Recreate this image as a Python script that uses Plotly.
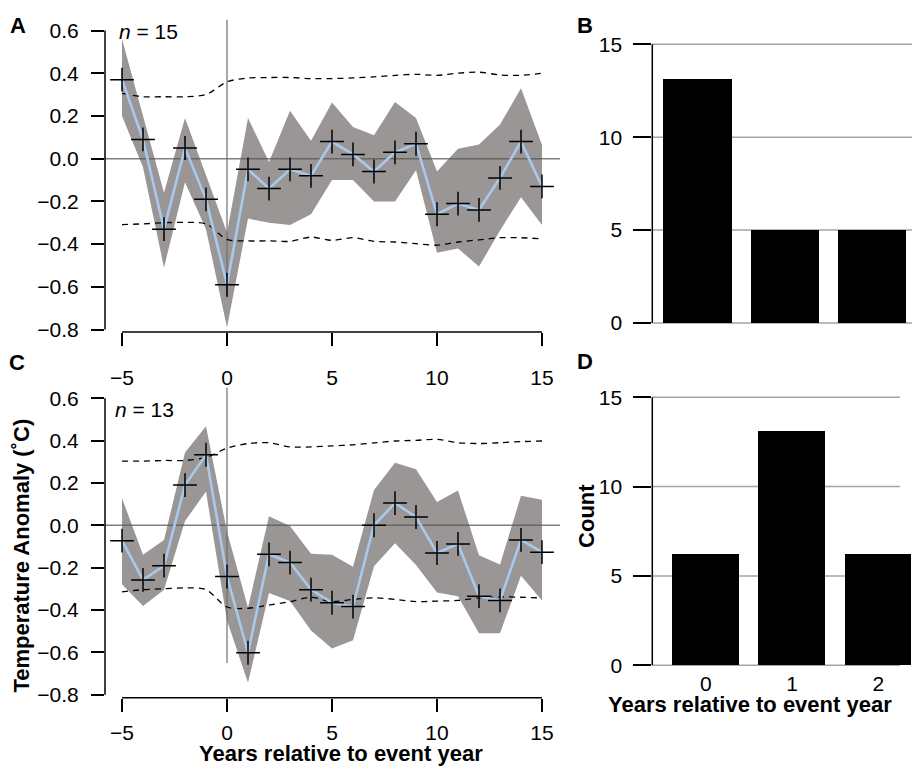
import plotly.graph_objects as go

# ---------------- data ----------------
years = list(range(-5, 16))

A_mean = [0.37, 0.09, -0.33, 0.05, -0.19, -0.59, -0.05, -0.14, -0.05, -0.08,
          0.08, 0.02, -0.06, 0.03, 0.07, -0.26, -0.21, -0.24, -0.09, 0.08, -0.13]
A_band_hi = [0.56, 0.20, -0.16, 0.19, -0.08, -0.345, 0.19, -0.015, 0.225, 0.084,
             0.263, 0.148, 0.11, 0.265, 0.19, -0.06, 0.046, 0.066, 0.16, 0.33, 0.064]
A_band_lo = [0.20, -0.04, -0.51, -0.11, -0.33, -0.79, -0.28, -0.30, -0.31, -0.26,
             -0.10, -0.10, -0.20, -0.20, -0.054, -0.44, -0.42, -0.505, -0.336, -0.18, -0.31]
A_ci_hi = [0.306, 0.29, 0.29, 0.29, 0.30, 0.36, 0.378, 0.38, 0.38, 0.375,
           0.375, 0.378, 0.383, 0.39, 0.395, 0.39, 0.40, 0.405, 0.392, 0.39, 0.40]
A_ci_lo = [-0.309, -0.305, -0.30, -0.298, -0.305, -0.378, -0.385, -0.385, -0.387, -0.367,
           -0.382, -0.37, -0.387, -0.39, -0.398, -0.405, -0.39, -0.38, -0.37, -0.37, -0.375]

C_mean = [-0.073, -0.258, -0.191, 0.19, 0.333, -0.242, -0.602, -0.137, -0.176, -0.304,
          -0.366, -0.384, 0.0, 0.105, 0.039, -0.131, -0.088, -0.335, -0.355, -0.069, -0.127]
C_band_hi = [0.128, -0.139, -0.069, 0.344, 0.468, -0.03, -0.389, 0.043, -0.003, -0.134,
             -0.139, -0.196, 0.167, 0.295, 0.264, 0.11, 0.164, -0.142, -0.185, 0.139, 0.12]
C_band_lo = [-0.278, -0.381, -0.304, 0.02, 0.159, -0.45, -0.744, -0.32, -0.358, -0.497,
             -0.582, -0.543, -0.193, -0.085, -0.188, -0.317, -0.335, -0.51, -0.51, -0.238, -0.355]
C_ci_hi = [0.303, 0.303, 0.306, 0.306, 0.32, 0.364, 0.386, 0.39, 0.37, 0.37,
           0.375, 0.38, 0.389, 0.398, 0.401, 0.406, 0.39, 0.386, 0.39, 0.395, 0.398]
C_ci_lo = [-0.315, -0.304, -0.30, -0.296, -0.304, -0.386, -0.392, -0.377, -0.361, -0.34,
           -0.361, -0.35, -0.343, -0.35, -0.361, -0.358, -0.355, -0.343, -0.338, -0.34, -0.343]

bar_cats = [0, 1, 2]
B_counts = [13.15, 5, 5]
D_counts = [6.25, 13.1, 6.25]

line_xticks = [-5, 0, 5, 10, 15]
line_yticks = [-0.8, -0.6, -0.4, -0.2, 0.0, 0.2, 0.4, 0.6]
bar_yticks = [0, 5, 10, 15]

# ---------------- styling / layout helpers ----------------
W, H = 912, 772
def fx(p):
    return p / W
def fy(p):
    return 1 - p / H

FONT = "Liberation Sans, Arial, Helvetica, sans-serif"
BAND = "#9a9695"
MEAN = "#a9c9ec"
TICKFONT = dict(family=FONT, size=21, color="black")

X_RANGE = [-5 - 17 / 21, 15 + 18 / 21]
A_YRANGE = [-0.8 - 2.5 / 217.86, 0.6 + 15 / 217.86]
C_YRANGE = [-0.8 - 3.2 / 215.93, 0.6 + 15 / 215.93]

fig = go.Figure()

def line_panel(xa, ya, mean, bhi, blo, chi, clo):
    common = dict(xaxis=xa, yaxis=ya, showlegend=False, hoverinfo="skip")
    fig.add_trace(go.Scatter(x=years, y=blo, mode="lines", line=dict(width=0), **common))
    fig.add_trace(go.Scatter(x=years, y=bhi, mode="lines", line=dict(width=0),
                             fill="tonexty", fillcolor=BAND, **common))
    fig.add_trace(go.Scatter(x=X_RANGE, y=[0, 0], mode="lines",
                             line=dict(color="rgba(85,85,85,0.75)", width=1.5), **common))
    fig.add_trace(go.Scatter(x=[0, 0], y=[-0.65, 0.65], mode="lines",
                             line=dict(color="rgba(110,110,110,0.6)", width=2), **common))
    for ci in (chi, clo):
        fig.add_trace(go.Scatter(x=years, y=ci, mode="lines",
                                 line=dict(color="black", width=1.3, dash="6px,5px",
                                           shape="spline", smoothing=0.8), **common))
    fig.add_trace(go.Scatter(x=years, y=mean, mode="lines",
                             line=dict(color=MEAN, width=2.6), **common))
    fig.add_trace(go.Scatter(x=years, y=mean, mode="markers",
                             marker=dict(symbol="cross-thin", size=17,
                                         line=dict(color="black", width=1.5)), **common))

line_panel("x", "y", A_mean, A_band_hi, A_band_lo, A_ci_hi, A_ci_lo)
line_panel("x3", "y3", C_mean, C_band_hi, C_band_lo, C_ci_hi, C_ci_lo)

fig.add_trace(go.Bar(x=bar_cats, y=B_counts, width=0.78, marker=dict(color="black", line=dict(width=0)),
                     xaxis="x2", yaxis="y2", showlegend=False, hoverinfo="skip"))
fig.add_trace(go.Bar(x=bar_cats, y=D_counts, width=0.775, marker=dict(color="black", line=dict(width=0)),
                     xaxis="x4", yaxis="y4", showlegend=False, hoverinfo="skip"))

def x_line_axis(anchor, standoff):
    return dict(domain=[fx(105), fx(560)], range=X_RANGE, anchor=anchor,
                tickvals=line_xticks, ticks="outside", ticklen=13, tickwidth=1.5,
                tickcolor="black", showline=False, showgrid=False, zeroline=False,
                tickfont=TICKFONT, ticklabelstandoff=standoff, fixedrange=True)

def y_line_axis(anchor, dom, rng):
    return dict(domain=dom, range=rng, anchor=anchor, tickvals=line_yticks,
                tickformat=".1f", ticks="outside", ticklen=13, tickwidth=1.5,
                tickcolor="black", showline=False, showgrid=False, zeroline=False,
                tickfont=TICKFONT, ticklabelstandoff=8, fixedrange=True)

B_XRANGE = [-0.52, 2.45]
D_XRANGE = [-0.62, 2.39]
BAR_YRANGE = [-0.3, 15.3]

def y_bar_axis(anchor, dom):
    return dict(domain=dom, range=BAR_YRANGE, anchor=anchor, tickvals=bar_yticks,
                ticks="outside", ticklen=18, tickwidth=1.5, tickcolor="black",
                showline=False, showgrid=False, zeroline=False, tickfont=TICKFONT,
                ticklabelstandoff=7, fixedrange=True)

fig.update_layout(
    width=W, height=H, margin=dict(l=0, r=0, t=0, b=0),
    paper_bgcolor="white", plot_bgcolor="rgba(0,0,0,0)",
    font=dict(family=FONT, color="black"),
    bargap=0,
    xaxis=x_line_axis("y", 14),
    yaxis=y_line_axis("x", [fy(332.5), fy(10)], A_YRANGE),
    xaxis3=x_line_axis("y3", 3),
    yaxis3=y_line_axis("x3", [fy(705.5), fy(385)], C_YRANGE),
    xaxis2=dict(domain=[fx(652.3), 1], range=B_XRANGE, anchor="y2", showticklabels=False,
                ticks="", showline=False, showgrid=False, zeroline=False, fixedrange=True),
    yaxis2=y_bar_axis("x2", [fy(329), fy(33.3)]),
    xaxis4=dict(domain=[fx(652.3), 1], range=D_XRANGE, anchor="y4", tickvals=bar_cats,
                ticks="", showline=False, showgrid=False, zeroline=False, tickfont=TICKFONT,
                ticklabelstandoff=-2, fixedrange=True),
    yaxis4=y_bar_axis("x4", [fy(677.8), fy(393.5)]),
)

shapes = []
# detached R-style axis lines
for ya in ("y", "y3"):
    shapes.append(dict(type="line", xref="paper", yref=ya, x0=fx(105), x1=fx(105),
                       y0=line_yticks[0], y1=line_yticks[-1], line=dict(color="black", width=1.5)))
for xa, ybot in (("x", 332.5), ("x3", 705.5)):
    shapes.append(dict(type="line", xref=xa, yref="paper", x0=line_xticks[0], x1=line_xticks[-1],
                       y0=fy(ybot), y1=fy(ybot), line=dict(color="black", width=1.5)))
# bar panel gridlines + y axis lines
for xa, ya, xr, xend in (("x2", "y2", B_XRANGE, B_XRANGE[1]), ("x4", "y4", D_XRANGE, 2.25)):
    for v in bar_yticks:
        shapes.append(dict(type="line", xref=xa, yref=ya, x0=xr[0], x1=xend, y0=v, y1=v,
                           layer="below", line=dict(color="#a3a3a3", width=1.5)))
    shapes.append(dict(type="line", xref="paper", yref=ya, x0=fx(652.3), x1=fx(652.3),
                       y0=bar_yticks[0], y1=bar_yticks[-1], line=dict(color="black", width=1.5)))
fig.update_layout(shapes=shapes)

ann = []
def label(text, x, y, size=22, angle=0, xanchor="center", bold=True):
    t = f"<b>{text}</b>" if bold else text
    ann.append(dict(text=t, x=fx(x), y=fy(y), xref="paper", yref="paper", showarrow=False,
                    xanchor=xanchor, yanchor="middle", textangle=angle,
                    font=dict(family=FONT, size=size, color="black")))

label("A", 17.5, 20)
label("B", 585, 20)
label("C", 16.5, 364)
label("D", 585, 363)
label("<i>n</i> = 15", 117, 26, size=21, xanchor="left", bold=False)
label("<i>n</i> = 13", 113, 411, size=21, xanchor="left", bold=False)
label("Temperature Anomaly (˚C)", 21.5, 561, angle=-90)
label("Years relative to event year", 341, 762)
label("Years relative to event year", 750, 712)
label("Count", 587, 520, angle=-90)
fig.update_layout(annotations=ann)

fig.write_html("out.html", config={"displayModeBar": False},
               post_script="document.body.style.margin='0';document.body.style.overflow='hidden';")
